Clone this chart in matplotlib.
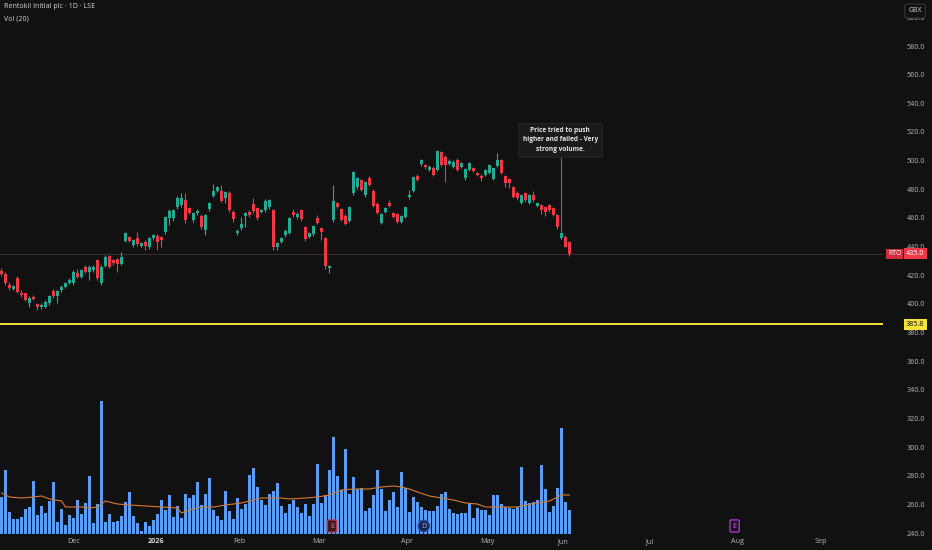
import numpy as np
import matplotlib.pyplot as plt
from matplotlib import transforms

plt.rcParams['font.family'] = ['Open Sans', 'DejaVu Sans']

title = "Rentokil Initial plc · 1D · LSE"
vol_title = "Vol (20)"
ticker = "RTO"
currency = "GBX"
support_level = 385.8
note = "Price tried to push\nhigher and failed - Very\nstrong volume."
note_bar = 140

# daily OHLC, one row per trading day (GBX)
opens = [423, 421, 413, 410.7, 418, 408, 407.4, 400.5, 405, 399.8,
         397.7, 398.1, 400.5, 409.3, 405.6, 409.8, 412.1, 414.9, 414.4, 421.4,
         419.1, 426.0, 422.6, 423.7, 430.7, 414.4, 426.5, 433.5, 430.7, 431.2,
         427.9, 444.2, 446.5, 441.2, 445.9, 440.5, 443, 439.5, 445.8, 447.4,
         446.5, 450.5, 459.8, 460.2, 467.4, 469.1, 472.6, 466.7, 458.6, 463.2,
         461.4, 451.6, 466.3, 475.4, 479.1, 479.1, 474.0, 477.7, 464.4, 449.3,
         452.8, 461.6, 464.4, 469.5, 467.2, 464.4, 465.6, 467.4, 465.6, 440.0,
         443.5, 448.1, 449.8, 464.4, 460.4, 465.6, 453.5, 447.0, 448.8, 460.0,
         452.8, 445.8, 425.3, 458.6, 470.2, 466.0, 461.4, 457.9, 477.7, 481.8,
         486.5, 476.0, 487.6, 479.0, 469.5, 456.7, 464.4, 470.7, 463.2, 462.8,
         457.2, 460.9, 474.4, 479.0, 489.3, 497.7, 497.0, 493.5, 494.6, 493.5,
         506.3, 502.8, 498.0, 495.8, 500.5, 495.8, 487.6, 493.5, 494.6, 491.2,
         489.5, 490.0, 491.2, 487.0, 496.3, 500.5, 489.3, 487.2, 481.4, 477.7,
         470.7, 477.2, 470.2, 476.0, 468.4, 469.0, 467.9, 469.0, 467.2, 462.1,
         445.8, 447.0, 443.2]
highs = [425, 422, 415, 413.5, 419.5, 409.5, 408, 405.5, 406, 401,
         400.5, 402.5, 406.5, 410.5, 410, 413, 415, 418, 423.5, 424.5,
         424.5, 427.5, 427, 427, 431.5, 427, 434, 434.5, 431.5, 432,
         436.5, 450, 447.5, 445.5, 450, 443, 444.5, 446.5, 448.8, 448.5,
         447.5, 461.5, 466, 466.5, 475, 477.7, 477.2, 468, 464.5, 466.5,
         462.5, 463, 471, 483.7, 482.5, 483, 478.5, 478.5, 465.5, 452,
         461, 464, 465.5, 473.7, 468, 466.5, 473, 473.5, 466.5, 443.5,
         447, 452, 461, 466.5, 464, 466.5, 454.5, 450, 455, 462,
         454, 447, 427.5, 483, 471.5, 467, 462.5, 468.5, 492.5, 488.5,
         487.5, 486, 489, 480, 471, 463.5, 467.5, 472.5, 464, 463.5,
         462, 468, 479.5, 489.5, 491, 501.5, 498, 497, 496, 507.5,
         507, 504, 501, 500.5, 502, 499, 495, 499, 495.5, 492,
         490.5, 494.5, 497.5, 495, 505.6, 501.5, 490, 488, 482, 478.5,
         477, 478, 477, 479, 471.5, 470, 468.5, 470, 468, 463,
         450, 448, 444]
lows = [419.5, 413, 409.5, 409.5, 407.5, 405, 402, 398, 402.5, 396,
        396.5, 397, 399.5, 404.5, 400.5, 408.5, 411, 414, 413.5, 418,
        418, 421.5, 416.7, 422.5, 417, 413.5, 425.5, 425, 427, 422.6,
        427, 443, 443, 440, 440.5, 439.5, 437.5, 438.5, 444.5, 437.7,
        440, 449, 455, 458, 466, 468, 456.3, 462.5, 457.5, 462,
        452.5, 448.1, 465, 474.5, 478, 471, 470.5, 464.5, 457.5, 448,
        451.5, 453.9, 461, 463.5, 458.5, 463.5, 464.5, 466, 437.5, 437.5,
        442.5, 447, 449, 461, 459.5, 458, 444, 446, 447.5, 455.5,
        444.6, 424.5, 421.5, 457.5, 467, 458, 455, 457, 476, 480.5,
        478.5, 474.5, 482, 467.5, 462.5, 456, 463.5, 467.5, 460, 456.5,
        456.5, 460, 473.5, 478, 485.5, 496.5, 494.5, 492.5, 489.5, 492.5,
        496.5, 485, 497, 495, 493, 495, 486.5, 492.5, 492, 489,
        486, 489, 490.5, 486.5, 495.5, 490.5, 481.5, 481, 474, 472.5,
        470, 471.5, 469.5, 471.5, 467.5, 462.5, 461.5, 464.5, 461.5, 452.5,
        445, 439.5, 433.5]
closes = [421, 414.5, 411, 412.5, 408.6, 406, 402.8, 404.4, 403.7, 398.1,
          399.3, 401.2, 405.6, 405.6, 409.3, 412.1, 414.4, 416.7, 422.6, 419.1,
          423.7, 422.6, 426.0, 426.0, 417.9, 426.0, 433.0, 426.0, 428.4, 427.9,
          433.0, 449.3, 444.2, 444.7, 441.9, 442.3, 440.5, 445.8, 448.1, 443.5,
          444.7, 460.5, 465.1, 465.6, 474.0, 474.0, 458.6, 463.7, 463.2, 465.1,
          454.0, 462.1, 470.2, 479.1, 481.4, 472.1, 477.9, 465.6, 459.1, 451.2,
          455.8, 463.2, 462.1, 464.9, 459.8, 465.6, 471.9, 472.6, 439.5, 442.8,
          446.3, 451.2, 460.2, 462.1, 462.8, 459.0, 445.1, 449.3, 454.4, 456.2,
          450.4, 426.5, 426.5, 472.1, 467.9, 458.6, 455.8, 467.9, 491.8, 487.6,
          479.5, 485.3, 483.0, 468.3, 463.7, 462.8, 466.7, 468.3, 460.9, 457.4,
          461.4, 467.4, 476.0, 488.8, 486.5, 500.5, 495.3, 495.8, 490.0, 507.0,
          497.0, 497.0, 500.0, 499.3, 493.5, 498.1, 494.0, 498.1, 493.0, 490.0,
          487.6, 493.5, 497.0, 494.6, 500.5, 491.2, 484.6, 484.6, 474.9, 473.7,
          476.0, 472.5, 476.0, 472.5, 470.7, 465.6, 464.4, 465.6, 462.1, 453.9,
          449.3, 440.0, 435.0]
# volume, relative units
volumes = [37, 64, 22, 15, 15, 17, 25, 27, 53, 19,
           28, 21, 33, 52, 12, 25, 9, 19, 16, 34,
           20, 31, 58, 11, 30, 133, 12, 20, 12, 13,
           18, 32, 42, 18, 11, 3, 12, 8, 14, 20,
           34, 24, 39, 17, 28, 16, 40, 36, 39, 52,
           29, 40, 56, 24, 18, 14, 43, 23, 15, 36,
           25, 30, 59, 66, 47, 34, 29, 40, 43, 51,
           28, 21, 30, 34, 27, 21, 30, 18, 30, 70,
           31, 39, 64, 97, 58, 44, 85, 40, 57, 45,
           46, 23, 26, 39, 64, 45, 23, 34, 42, 27,
           62, 46, 22, 37, 32, 27, 24, 23, 23, 28,
           40, 42, 25, 21, 20, 21, 21, 31, 16, 26,
           24, 24, 19, 39, 39, 30, 27, 26, 25, 27,
           67, 33, 31, 32, 34, 69, 45, 22, 28, 46,
           106, 32, 24]
# 20-day volume average, read at these bars
ma_bars = [0, 2, 5, 8, 10, 12, 15, 16, 20, 22, 24, 26, 29, 32, 36, 40, 44, 45,
           47, 50, 53, 56, 60, 63, 65, 68, 70, 72, 76, 79, 82, 85, 88, 92, 95,
           98, 100, 102, 104, 107, 110, 113, 116, 119, 121, 124, 127, 129, 131,
           134, 137, 140, 142]
ma_vals = [41, 37, 36, 37, 38, 35, 33, 27, 27, 26, 27, 33, 30, 29, 28, 27, 26, 21,
           24, 27, 27, 29, 31, 34, 36, 36, 36, 35, 36, 37, 39, 44, 45, 45, 47,
           48, 47, 45, 42, 38, 36, 34, 31, 30, 27, 27, 27, 27, 29,
           31, 33, 39, 39]

month_labels = ["Dec", "2026", "Feb", "Mar", "Apr", "May", "Jun", "Jul", "Aug", "Sep"]
month_bars = [18, 38.6, 59.6, 79.4, 101.4, 121.4, 140.4, 162.1, 183.9, 204.9]

events = [("E", 82.6), ("D", 105.6), ("E", 183.3)]

bg = '#111111'
up_col = '#22ab94'
dn_col = '#f23645'
vol_col = '#5b9cf6'
text_col = '#b2b5be'

W, H = 932, 550
fig = plt.figure(figsize=(W / 100, H / 100), dpi=100, facecolor=bg)
rect = [0, 14 / H, 883 / W, 536 / H]

axv = fig.add_axes(rect, facecolor=bg, zorder=0)
ax = fig.add_axes(rect, facecolor='none', zorder=1)

x = np.arange(len(closes))
o = np.array(opens)
c = np.array(closes)
colors = [up_col if cc >= oo else dn_col for oo, cc in zip(o, c)]

# volume pane
axv.bar(x, volumes, width=0.82, color=vol_col, linewidth=0)
axv.plot(ma_bars, ma_vals, color='#d9782f', linewidth=0.8)
axv.set_xlim(-0.375, 220.4)
axv.set_ylim(-2, 534)
axv.axis('off')

# candles
ax.vlines(x, lows, highs, colors=colors, linewidth=0.8, zorder=3)
body_low = np.minimum(o, c)
body_h = np.maximum(np.abs(c - o), 0.5)
ax.bar(x, body_h, bottom=body_low, width=0.75, color=colors, linewidth=0, zorder=4)

ax.axhline(support_level, color='#f5e23b', linewidth=1.4, zorder=5)
ax.axhline(closes[-1], color='#3a2a2c', linewidth=0.8, zorder=2)

ax.set_xlim(-0.375, 220.4)
ax.set_ylim(238.1, 612.1)
for s in ax.spines.values():
    s.set_visible(False)

ax.yaxis.tick_right()
ax.set_yticks(np.arange(240, 601, 20))
ax.set_yticklabels([f"{v:.1f}" for v in np.arange(240, 601, 20)])
ax.tick_params(axis='y', length=0, pad=17, labelsize=5.2, labelcolor=text_col)
ax.set_xticks(month_bars)
ax.set_xticklabels(month_labels)
ax.tick_params(axis='x', length=0, pad=1.5, labelsize=5.2, labelcolor=text_col)
for lbl in ax.get_xticklabels():
    if lbl.get_text() == "2026":
        lbl.set_fontweight('bold')
        lbl.set_color('#d1d4dc')

# annotation
ax.vlines(note_bar, highs[note_bar] + 0.5, 507, colors='#6a6a6a', linewidth=0.8, zorder=6)
ax.text(note_bar - 0.3, 514.5, note, ha='center', va='center', fontsize=4.7, fontweight='bold',
        color='#e8e8e8', linespacing=1.45, zorder=7,
        bbox=dict(boxstyle='square,pad=0.7', fc='#1b1b1b', ec='#262626', lw=0.6))

# event badges on the time axis
badge_style = {"E": ('#3a1820', '#c2334b', '#e07a8a'), "D": ('#152447', '#2a4fb0', '#8fb0ff')}
for i, (lab, pos) in enumerate(events):
    fc, ec, tc = badge_style[lab]
    if i == 2:
        fc, ec, tc = ('#1d1024', '#b03cc8', '#c26ad6')
    box = 'circle,pad=0.3' if lab == "D" else 'round,pad=0.35,rounding_size=0.15'
    axv.text(pos, 8, lab, ha='center', va='center', fontsize=5.3, color=tc,
             bbox=dict(boxstyle=box, fc=fc, ec=ec, lw=0.9), zorder=5)

# header text
fig.text(4 / W, 1 - 7 / H, title, ha='left', va='center', fontsize=5.1, color='#d1d4dc')
fig.text(4 / W, 1 - 19 / H, vol_title, ha='left', va='center', fontsize=5.1, color='#d1d4dc')

# price labels on the right axis
tr = transforms.blended_transform_factory(fig.transFigure, ax.transData)
fig.text(888 / W, closes[-1], ticker, transform=tr, ha='left', va='center', fontsize=5,
         color='white', bbox=dict(boxstyle='square,pad=0.25', fc='#d12e3d', ec='none'), zorder=10)
fig.text(906 / W, closes[-1], f"{closes[-1]:.1f}", transform=tr, ha='left', va='center',
         fontsize=5.2, color='white',
         bbox=dict(boxstyle='square,pad=0.3', fc=dn_col, ec='none'), zorder=10)
fig.text(906 / W, support_level, f"{support_level:.1f}", transform=tr, ha='left', va='center',
         fontsize=5.2, color='#131313',
         bbox=dict(boxstyle='square,pad=0.3', fc='#f5e23b', ec='none'), zorder=10)
fig.text(915 / W, 1 - 11 / H, currency, ha='center', va='center', fontsize=5, color='#d1d4dc',
         bbox=dict(boxstyle='round,pad=0.5,rounding_size=0.3', fc=bg, ec='#3a3a3a', lw=0.7),
         zorder=10)

fig.savefig('out.png', dpi=100, facecolor=bg)
